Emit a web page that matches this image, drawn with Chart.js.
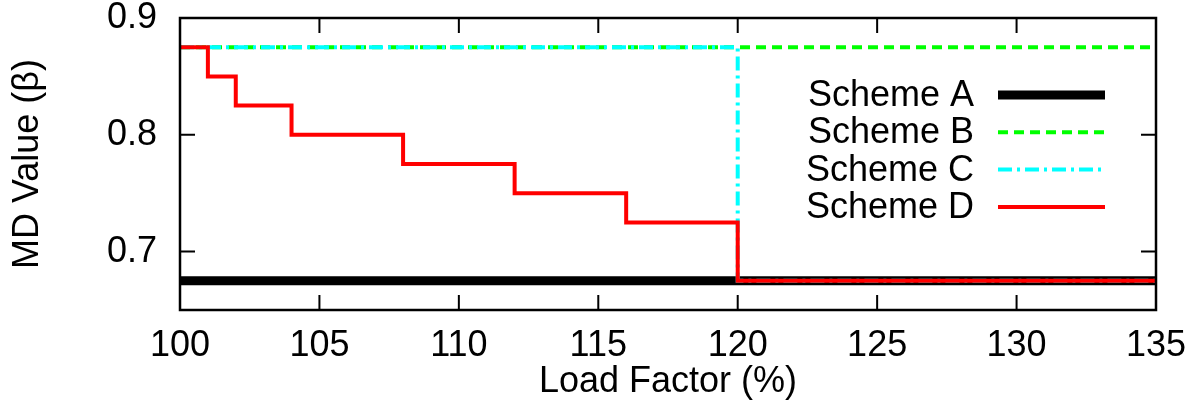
<!DOCTYPE html>
<html>
<head>
<meta charset="utf-8">
<script src="https://cdn.jsdelivr.net/npm/chart.js@4/dist/chart.umd.min.js"></script>
<style>
  html, body { margin: 0; padding: 0; background: #fff; }
  #wrap { width: 1202px; height: 408px; }
</style>
</head>
<body>
<div id="wrap"><canvas id="md-chart" width="1202" height="408"></canvas></div>
<script>
// MD value vs load factor, four schemes

const xTicks = [100, 105, 110, 115, 120, 125, 130, 135];
const yTicks = [0.7, 0.8, 0.9];

const loadA = [100, 135];
const mdA = [0.675, 0.675];

const loadB = [100, 135];
const mdB = [0.875, 0.875];

const loadC = [100, 120, 135];
const mdC = [0.875, 0.675, 0.675];

const loadD = [100, 101, 102, 104, 108, 112, 116, 120, 135];
const mdD = [0.875, 0.85, 0.825, 0.8, 0.775, 0.75, 0.725, 0.675, 0.675];

const schemeNames = ["Scheme A", "Scheme B", "Scheme C", "Scheme D"];

const FONT = "'Liberation Sans', Arial, Helvetica, sans-serif";

function points(xs, ys) {
    return xs.map((x, i) => ({ x: x, y: ys[i] }));
}

// frame + inward tick marks like a gnuplot border
const framePlugin = {
    id: "frame",
    afterDatasetsDraw(chart) {
        const { ctx, chartArea: a, scales } = chart;
        ctx.save();
        ctx.strokeStyle = "#000";
        ctx.lineWidth = 2;
        const len = 15;
        ctx.beginPath();
        xTicks.forEach(v => {
            const px = scales.x.getPixelForValue(v);
            ctx.moveTo(px, a.bottom);
            ctx.lineTo(px, a.bottom - len);
            ctx.moveTo(px, a.top);
            ctx.lineTo(px, a.top + len);
        });
        yTicks.forEach(v => {
            const py = scales.y.getPixelForValue(v);
            ctx.moveTo(a.left, py);
            ctx.lineTo(a.left + len, py);
            ctx.moveTo(a.right, py);
            ctx.lineTo(a.right - len, py);
        });
        ctx.stroke();
        ctx.lineWidth = 2.5;
        ctx.strokeRect(a.left, a.top, a.right - a.left, a.bottom - a.top);
        ctx.restore();
    }
};

// key inside the plot: right-aligned text, sample line after it
const keyPlugin = {
    id: "key",
    afterDraw(chart) {
        const { ctx, chartArea: a } = chart;
        const lineEnd = a.right - 51;
        const lineStart = lineEnd - 107;
        const textRight = lineStart - 24;
        ctx.save();
        ctx.font = "36px " + FONT;
        ctx.textAlign = "right";
        ctx.textBaseline = "middle";
        chart.data.datasets.forEach((ds, i) => {
            const y = a.top + 77 + i * 37.3;
            ctx.fillStyle = "#000";
            ctx.fillText(ds.label, textRight, y + 1);
            ctx.strokeStyle = ds.borderColor;
            ctx.lineWidth = ds.borderWidth;
            ctx.setLineDash(ds.borderDash || []);
            ctx.beginPath();
            ctx.moveTo(lineStart, y);
            ctx.lineTo(lineEnd, y);
            ctx.stroke();
        });
        ctx.restore();
    }
};

const config = {
    type: "line",
    data: {
        datasets: [{
            label: schemeNames[0],
            data: points(loadA, mdA),
            borderColor: "#000000",
            borderWidth: 9,
            order: 3
        }, {
            label: schemeNames[1],
            data: points(loadB, mdB),
            borderColor: "#00ff00",
            borderWidth: 4,
            borderDash: [10, 6],
            order: 2
        }, {
            label: schemeNames[2],
            data: points(loadC, mdC),
            borderColor: "#00ffff",
            borderWidth: 4,
            borderDash: [14, 5, 3, 5],
            stepped: "before",
            order: 1
        }, {
            label: schemeNames[3],
            data: points(loadD, mdD),
            borderColor: "#ff0000",
            borderWidth: 4,
            stepped: "before",
            order: 0
        }]
    },
    options: {
        responsive: false,
        animation: false,
        pointRadius: 0,
        elements: {
            point: { radius: 0 },
            line: { tension: 0, borderCapStyle: "butt", fill: false }
        },
        layout: { padding: { top: 18, right: 46, left: 0, bottom: 0 } },
        plugins: {
            legend: { display: false },
            tooltip: { enabled: false }
        },
        scales: {
            x: {
                type: "linear",
                min: 100,
                max: 135,
                afterBuildTicks: scale => { scale.ticks = xTicks.map(v => ({ value: v })); },
                afterFit: scale => {
                    scale.height = 98;
                    scale.paddingLeft = 0;
                    scale.paddingRight = 0;
                },
                grid: { display: false, drawTicks: false },
                border: { display: false },
                ticks: {
                    padding: 14,
                    color: "#000",
                    maxRotation: 0,
                    autoSkip: false,
                    font: { family: FONT, size: 36 },
                    callback: v => String(v)
                },
                title: {
                    display: true,
                    text: "Load Factor (%)",
                    color: "#000",
                    padding: { top: 0, bottom: 4 },
                    font: { family: FONT, size: 36 }
                }
            },
            y: {
                type: "linear",
                min: 0.65,
                max: 0.9,
                afterBuildTicks: scale => { scale.ticks = yTicks.map(v => ({ value: v })); },
                afterFit: scale => {
                    scale.width = 180;
                    scale.paddingTop = 0;
                    scale.paddingBottom = 0;
                },
                grid: { display: false, drawTicks: false },
                border: { display: false },
                ticks: {
                    padding: 23,
                    color: "#000",
                    autoSkip: false,
                    font: { family: FONT, size: 36 },
                    callback: v => v.toFixed(1)
                },
                title: {
                    display: true,
                    text: "MD Value (β)",
                    color: "#000",
                    padding: { top: 6, bottom: 0 },
                    font: { family: FONT, size: 36 }
                }
            }
        }
    },
    plugins: [framePlugin, keyPlugin]
};

const ctx = document.getElementById("md-chart").getContext("2d");
new Chart(ctx, config);
</script>
</body>
</html>
